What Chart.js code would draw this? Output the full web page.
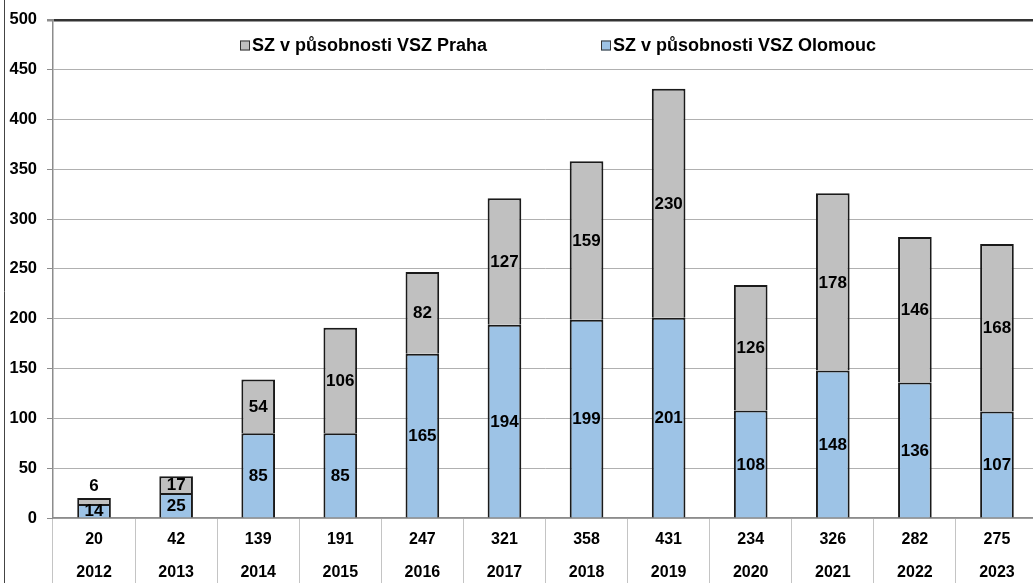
<!DOCTYPE html>
<html>
<head>
<meta charset="utf-8">
<script src="https://cdn.jsdelivr.net/npm/chart.js@4/dist/chart.umd.min.js"></script>
<style>
html, body { margin: 0; padding: 0; overflow: hidden; background: #fff; }
#wrap { width: 1038px; height: 583px; position: relative; }
</style>
</head>
<body>
<div id="wrap"><canvas id="c"></canvas></div>
<script>
const years = ['2012','2013','2014','2015','2016','2017','2018','2019','2020','2021','2022','2023'];
const totals = [20, 42, 139, 191, 247, 321, 358, 431, 234, 326, 282, 275];
const olomouc = [14, 25, 85, 85, 165, 194, 199, 201, 108, 148, 136, 107];
const praha = [6, 17, 54, 106, 82, 127, 159, 230, 126, 178, 146, 168];
const seriesNames = ['SZ v působnosti VSZ Praha', 'SZ v působnosti VSZ Olomouc'];
const yTicks = [0, 50, 100, 150, 200, 250, 300, 350, 400, 450, 500];

const FONT = "'Liberation Sans', Arial, sans-serif";
const GRAY = '#c0c0c0';
const BLUE = '#9dc3e6';

const labels = years.map((y, i) => [String(totals[i]), y]);

const dataLabelPlugin = {
  id: 'dataLabels',
  afterDatasetsDraw(chart) {
    const ctx = chart.ctx;
    ctx.save();
    ctx.font = 'bold 17px ' + FONT;
    ctx.fillStyle = '#000';
    ctx.textAlign = 'center';
    ctx.textBaseline = 'middle';
    chart.data.datasets.forEach((ds, di) => {
      const meta = chart.getDatasetMeta(di);
      meta.data.forEach((bar, i) => {
        const v = ds.data[i];
        let y = (bar.y + bar.base) / 2;
        if (v < 10) y = bar.y - 13;
        ctx.fillText(String(v), bar.x, y + 1);
      });
    });
    ctx.restore();
  }
};

const decorPlugin = {
  id: 'decor',
  afterDraw(chart) {
    const ctx = chart.ctx;
    ctx.save();
    ctx.strokeStyle = '#444';
    ctx.lineWidth = 1;
    ctx.beginPath();
    ctx.moveTo(4.5, 0);
    ctx.lineTo(4.5, chart.height);
    ctx.stroke();
    const items = [
      { text: seriesNames[0], color: GRAY, x: 240 },
      { text: seriesNames[1], color: BLUE, x: 601 }
    ];
    const cy = 45.5;
    ctx.font = 'bold 18px ' + FONT;
    ctx.textBaseline = 'middle';
    ctx.textAlign = 'left';
    items.forEach(it => {
      ctx.fillStyle = it.color;
      ctx.fillRect(it.x, cy - 5, 10, 10);
      ctx.strokeStyle = '#333';
      ctx.lineWidth = 1;
      ctx.strokeRect(it.x + 0.5, cy - 4.5, 9, 9);
      ctx.fillStyle = '#000';
      ctx.fillText(it.text, it.x + 12, cy + 1);
    });
    ctx.restore();
  }
};

new Chart(document.getElementById('c'), {
  type: 'bar',
  data: {
    labels: labels,
    datasets: [
      {
        label: seriesNames[1],
        data: olomouc,
        backgroundColor: BLUE,
        borderColor: '#1a1a1a',
        borderWidth: 2,
        barPercentage: 0.41,
        categoryPercentage: 1
      },
      {
        label: seriesNames[0],
        data: praha,
        backgroundColor: GRAY,
        borderColor: '#1a1a1a',
        borderWidth: 2,
        barPercentage: 0.41,
        categoryPercentage: 1
      }
    ]
  },
  options: {
    responsive: true,
    maintainAspectRatio: false,
    animation: false,
    layout: { padding: { top: 17, left: 0, right: 0, bottom: 0 } },
    plugins: {
      legend: { display: false },
      tooltip: { enabled: false }
    },
    scales: {
      x: {
        stacked: true,
        grid: {
          offset: true,
          drawOnChartArea: false,
          drawTicks: true,
          tickLength: 65,
          color: '#c4c4c4',
          lineWidth: 1
        },
        border: { color: '#8c8c8c', width: 1.5 },
        ticks: {
          padding: -60,
          color: '#000',
          font: { family: FONT, size: 16, weight: 'bold', lineHeight: 2.06 },
          maxRotation: 0,
          autoSkip: false
        },
        afterFit(scale) { scale.height = 65; }
      },
      y: {
        stacked: true,
        min: 0,
        max: 500,
        afterBuildTicks(scale) { scale.ticks = yTicks.map(v => ({ value: v })); },
        grid: {
          color: ctx => ctx.tick && ctx.tick.value === 500 ? '#333' : '#b0b0b0',
          lineWidth: ctx => ctx.tick && ctx.tick.value === 500 ? 2.5 : 1,
          tickLength: 6,
          tickColor: '#8c8c8c'
        },
        border: { color: '#8c8c8c', width: 1.5 },
        ticks: {
          padding: 10,
          color: '#000',
          font: { family: FONT, size: 16.5, weight: 'bold' }
        },
        afterFit(scale) { scale.width = 53; }
      }
    }
  },
  plugins: [dataLabelPlugin, decorPlugin]
});
</script>
</body>
</html>
